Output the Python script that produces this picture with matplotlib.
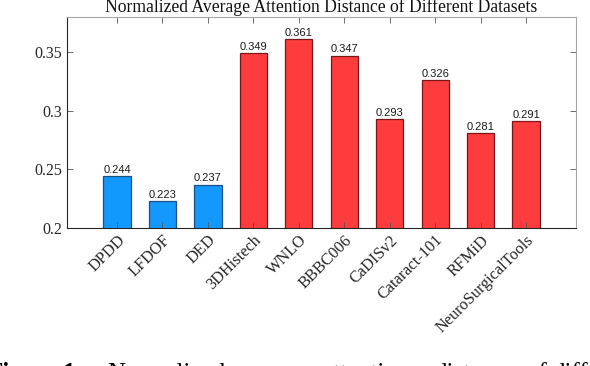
import numpy as np
import matplotlib.pyplot as plt
import matplotlib.transforms as mtransforms

datasets = ["DPDD", "LFDOF", "DED", "3DHistech", "WNLO", "BBBC006",
            "CaDISv2", "Cataract-101", "RFMiD", "NeuroSurgicalTools"]
distance = [0.244, 0.223, 0.237, 0.349, 0.361, 0.347, 0.293, 0.326, 0.281, 0.291]
group = ["natural", "natural", "natural", "medical", "medical", "medical",
         "medical", "medical", "medical", "medical"]

face = {"natural": "#1398fd", "medical": "#fe3b3d"}
edge = {"natural": "#1c4f80", "medical": "#7a1616"}

serif = ["Liberation Serif", "DejaVu Serif"]
sans = ["Liberation Sans", "DejaVu Sans"]

fig = plt.figure(figsize=(5.9, 3.66), dpi=100)
ax = fig.add_axes([0.1136, 0.377, 0.8627, 0.5766])

x = np.arange(1, len(datasets) + 1)
ax.bar(x, distance, width=0.6,
       color=[face[g] for g in group],
       edgecolor=[edge[g] for g in group], linewidth=0.9)

for xi, v in zip(x, distance):
    ax.text(xi, v + 0.0012, f"{v:.3f}", ha="center", va="bottom",
            fontsize=8, family=sans, color="#1a1a1a")

ax.set_xlim(-0.1, 11.1)
ax.set_ylim(0.2, 0.38)
ax.set_yticks([0.2, 0.25, 0.3, 0.35])
ax.set_yticklabels(["0.2", "0.25", "0.3", "0.35"], family=serif, fontsize=11.5)
ax.set_xticks(x)
ax.set_xticklabels(datasets, family=serif, fontsize=11.7, rotation=45,
                   ha="right", va="top", rotation_mode="anchor")

# nudge the rotated labels a little right and down, like the original
shift = mtransforms.ScaledTranslation(6 / 100, -4 / 100, fig.dpi_scale_trans)
for lab in ax.get_xticklabels():
    lab.set_transform(lab.get_transform() + shift)

ax.tick_params(direction="in", length=4, width=0.6, top=True, right=True,
               color="#555555", labelcolor="#262626")
ax.tick_params(axis="y", pad=3.5)
ax.tick_params(axis="x", pad=3)

for s in ["left", "bottom"]:
    ax.spines[s].set_color("#262626")
    ax.spines[s].set_linewidth(0.8)
for s in ["top", "right"]:
    ax.spines[s].set_color("#a6a6a6")
    ax.spines[s].set_linewidth(0.8)

ax.set_title("Normalized Average Attention Distance of Different Datasets",
             family=serif, fontsize=12.7, pad=3.5, color="#111111")

# caption of the paper, cut off by the bottom edge
words = [("Figure", -12), ("1:", 63), ("Normalized", 107), ("average", 232),
         ("attention", 322), ("distance", 434), ("of", 526), ("different", 552)]
for w, px in words:
    fig.text(px / 590, 1 - 380 / 366, w, family=serif, fontsize=18,
             ha="left", va="baseline",
             weight="bold" if w in ("Figure", "1:") else "normal")

fig.savefig("out.png", dpi=100)
